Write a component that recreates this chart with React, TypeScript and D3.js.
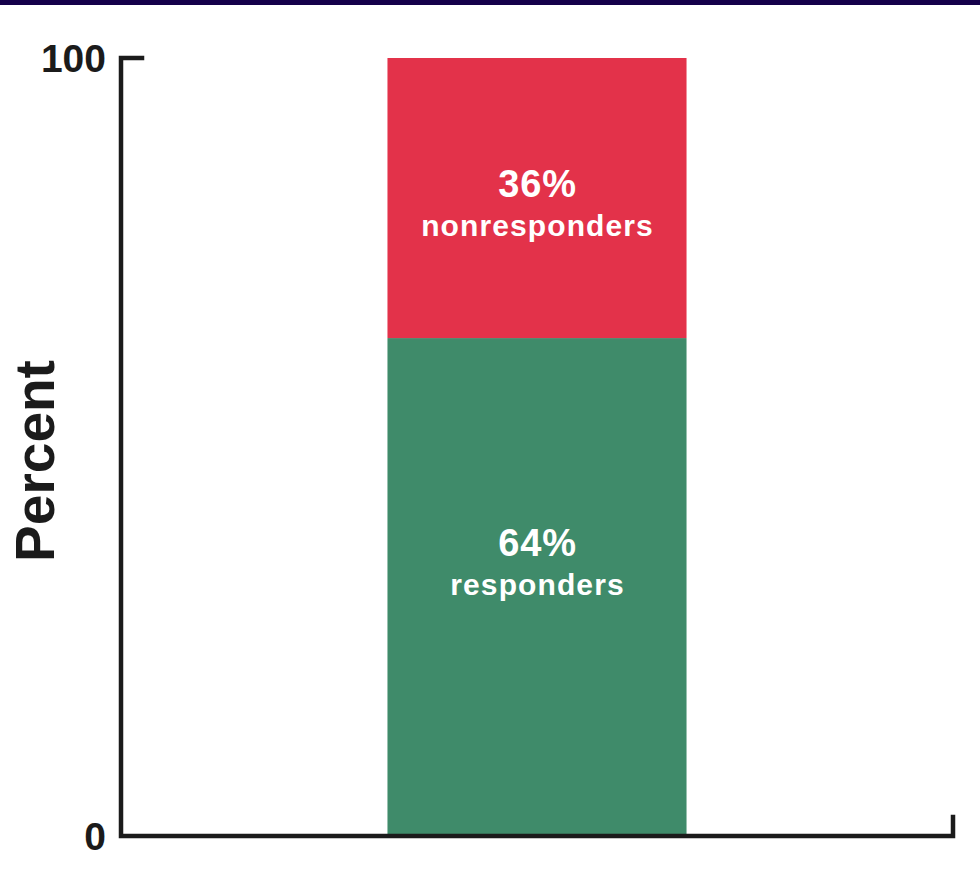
import React from "react";
import * as d3 from "d3";

// Response breakdown for a single cohort, stacked to 100%
const categories = ["Cohort"];
const seriesKeys = ["responders", "nonresponders"];
const responders = [64];
const nonresponders = [36];
const yTicks = [0, 100];

const W = 980;
const H = 881;
const FONT = "'Liberation Sans', Arial, Helvetica, sans-serif";
const COLORS: Record<string, string> = {
  responders: "#3f8b6a",
  nonresponders: "#e3324a",
};
// vertical placement of each segment's label block, relative to segment middle
const LABEL_SHIFT: Record<string, number> = {
  responders: -31,
  nonresponders: -1,
};

export default function App() {
  const rows = categories.map((c, i) => ({
    category: c,
    responders: responders[i],
    nonresponders: nonresponders[i],
  }));

  const y = d3.scaleLinear().domain([0, 100]).range([836, 58]);
  const x = d3
    .scaleBand<string>()
    .domain(categories)
    .range([121, 953])
    .paddingInner(0)
    .paddingOuter(0.891);

  const stacked = d3.stack<any>().keys(seriesKeys)(rows);

  const axisX0 = x.range()[0];
  const axisX1 = x.range()[1];
  const yTop = y(100);
  const yBottom = y(0);

  return (
    <svg
      width={W}
      height={H}
      style={{ position: "absolute", left: 0, top: 0, background: "#fff" }}
      fontFamily={FONT}
    >
      <rect x={0} y={0} width={W} height={5} fill="#14004a" />

      {/* stacked bar segments */}
      {stacked.map((layer) =>
        layer.map((d, i) => (
          <rect
            key={layer.key + i}
            x={x(rows[i].category)}
            y={y(d[1])}
            width={x.bandwidth()}
            height={y(d[0]) - y(d[1])}
            fill={COLORS[layer.key]}
          />
        ))
      )}

      {/* segment labels */}
      {stacked.map((layer) =>
        layer.map((d, i) => {
          const cx = (x(rows[i].category) ?? 0) + x.bandwidth() / 2;
          const value = d[1] - d[0];
          const base = (y(d[0]) + y(d[1])) / 2 + LABEL_SHIFT[layer.key];
          return (
            <g key={"lbl" + layer.key + i} fill="#fff" fontWeight="bold" textAnchor="middle">
              <text x={cx + 0.5} y={base} fontSize={38} letterSpacing={0.8}>
                {`${value}%`}
              </text>
              <text x={cx + 0.5} y={base + 39} fontSize={30} letterSpacing={1.1}>
                {layer.key}
              </text>
            </g>
          );
        })
      )}

      {/* axes */}
      <path
        d={`M${axisX0 + 21},${yTop} H${axisX0} V${yBottom} H${axisX1} V${yBottom - 19}`}
        fill="none"
        stroke="#1b1b1b"
        strokeWidth={4.5}
        strokeLinejoin="miter"
        strokeLinecap="square"
      />

      {yTicks.map((t) => (
        <text
          key={t}
          x={106}
          y={y(t) + 14}
          textAnchor="end"
          fontSize={39}
          fontWeight="bold"
          fill="#1b1b1b"
        >
          {t}
        </text>
      ))}

      <text
        transform={`translate(54, ${(yTop + yBottom) / 2 + 14}) rotate(-90)`}
        textAnchor="middle"
        fontSize={55}
        fontWeight="bold"
        fill="#1b1b1b"
      >
        Percent
      </text>
    </svg>
  );
}
